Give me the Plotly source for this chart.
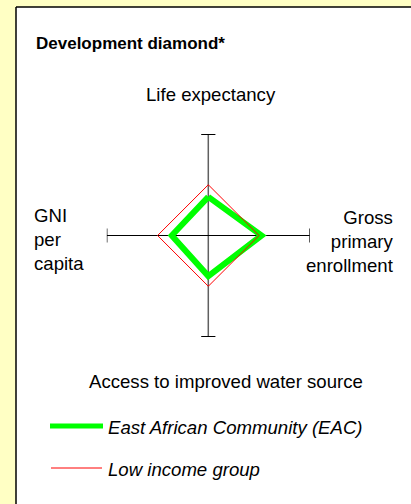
import plotly.graph_objects as go

W, H = 411, 504

# Data (normalized, low income group = 1, axes span 0..2)
indicators = ["Life expectancy", "Gross primary enrollment",
              "Access to improved water source", "GNI per capita"]
eac_values = [0.76, 1.05, 0.80, 0.72]
low_income_values = [1.0, 1.0, 1.0, 1.0]
axis_max = 2.0
series_names = ["East African Community (EAC)", "Low income group"]


def diamond(vals):
    le, gpe, wat, gni = vals
    xs = [0, gpe, 0, -gni, 0]
    ys = [le, 0, -wat, 0, le]
    return xs, ys


def px(x):
    return x / W


def py(y):
    return 1 - y / H


fig = go.Figure()

# axes of the diamond
tick = 0.14
fig.add_trace(go.Scatter(x=[0, 0], y=[-axis_max, axis_max], mode="lines",
                         line=dict(color="#606060", width=1.5), showlegend=False, hoverinfo="skip"))
fig.add_trace(go.Scatter(x=[-axis_max, axis_max], y=[0, 0], mode="lines",
                         line=dict(color="black", width=1.2), showlegend=False, hoverinfo="skip"))
for yv in (-axis_max, axis_max):
    fig.add_trace(go.Scatter(x=[-tick, tick], y=[yv, yv], mode="lines",
                             line=dict(color="black", width=2), showlegend=False, hoverinfo="skip"))
for xv in (-axis_max, axis_max):
    fig.add_trace(go.Scatter(x=[xv, xv], y=[-tick, tick], mode="lines",
                             line=dict(color="black", width=1.2), showlegend=False, hoverinfo="skip"))

gx, gy = diamond(eac_values)
fig.add_trace(go.Scatter(x=gx, y=gy, mode="lines", name=series_names[0],
                         line=dict(color="#00FF00", width=6), showlegend=False))
rx, ry = diamond(low_income_values)
fig.add_trace(go.Scatter(x=rx, y=ry, mode="lines", name=series_names[1],
                         line=dict(color="#FF0000", width=1), showlegend=False))

# plot area placement
x0, x1 = 106.8, 309.8
y0, y1 = 134, 337

font = "Liberation Sans, Arial, sans-serif"
shapes = [
    dict(type="rect", xref="paper", yref="paper", x0=px(16), x1=1.0, y0=0, y1=py(7),
         fillcolor="white", line=dict(width=0), layer="below"),
    dict(type="line", xref="paper", yref="paper", x0=px(16), x1=px(16), y0=0, y1=py(7),
         line=dict(color="black", width=1.5)),
    dict(type="line", xref="paper", yref="paper", x0=px(16), x1=1.0, y0=py(7), y1=py(7),
         line=dict(color="black", width=1.5)),
    # legend samples
    dict(type="line", xref="paper", yref="paper", x0=px(50), x1=px(103), y0=py(426), y1=py(426),
         line=dict(color="#00FF00", width=5)),
    dict(type="line", xref="paper", yref="paper", x0=px(51), x1=px(102), y0=py(468), y1=py(468),
         line=dict(color="#FF0000", width=1)),
]

fs = 18.6
annotations = [
    dict(text="<b>Development diamond*</b>", x=px(34), y=py(43), xanchor="left", yanchor="middle",
         font=dict(size=17, color="black", family=font)),
    dict(text=indicators[0], x=px(211), y=py(94), xanchor="center", yanchor="middle",
         font=dict(size=fs, color="black", family=font)),
    dict(text="GNI<br>per<br>capita", x=px(32), y=py(239), xanchor="left", yanchor="middle",
         align="left", font=dict(size=fs, color="black", family=font)),
    dict(text="Gross<br>primary<br>enrollment", x=px(396), y=py(241), xanchor="right", yanchor="middle",
         align="right", font=dict(size=fs, color="black", family=font)),
    dict(text=indicators[2], x=px(226), y=py(381), xanchor="center", yanchor="middle",
         font=dict(size=fs, color="black", family=font)),
    dict(text="<i>" + series_names[0] + "</i>", x=px(106), y=py(427), xanchor="left", yanchor="middle",
         font=dict(size=fs, color="black", family=font)),
    dict(text="<i>" + series_names[1] + "</i>", x=px(106), y=py(469), xanchor="left", yanchor="middle",
         font=dict(size=fs, color="black", family=font)),
]
for a in annotations:
    a.update(xref="paper", yref="paper", showarrow=False)

fig.update_layout(
    width=W, height=H, margin=dict(l=0, r=0, t=0, b=0),
    paper_bgcolor="#FFFFC4", plot_bgcolor="rgba(0,0,0,0)",
    xaxis=dict(domain=[px(x0), px(x1)], range=[-axis_max, axis_max], visible=False, fixedrange=True),
    yaxis=dict(domain=[py(y1), py(y0)], range=[-axis_max, axis_max], visible=False, fixedrange=True),
    shapes=shapes, annotations=annotations, showlegend=False,
)

fig.write_html("out.html", config={"displayModeBar": False},
               post_script="document.body.style.margin='0';document.body.style.overflow='hidden';")
